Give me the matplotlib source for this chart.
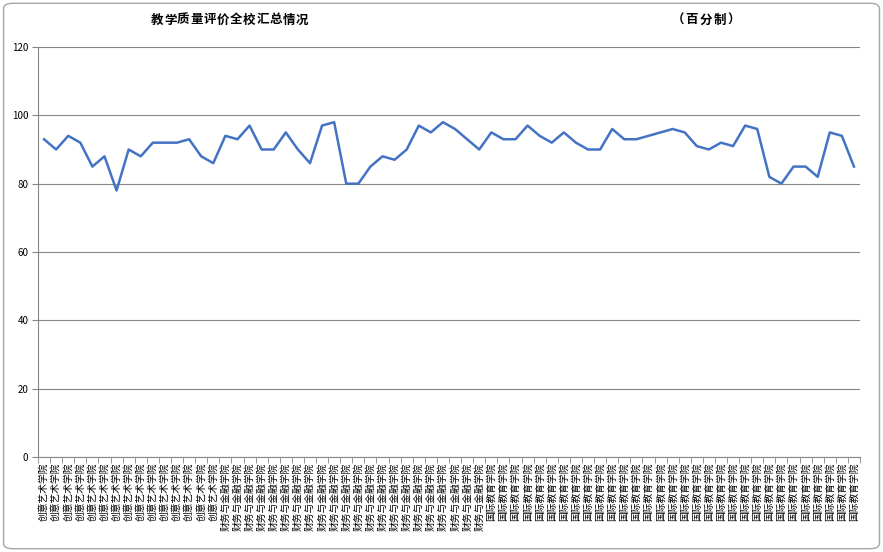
import numpy as np
import matplotlib.pyplot as plt
from matplotlib.patches import FancyBboxPatch

plt.rcParams['font.family'] = ['Noto Sans CJK SC', 'DejaVu Sans']

# categorias (colegios) y numero de cursos de cada uno
colegios = ['创意艺术学院', '财务与金融学院', '国际教育学院']
cuantos = [15, 22, 31]
etiquetas = [c for c, n in zip(colegios, cuantos) for _ in range(n)]

# puntuaciones
notas = [93, 90, 94, 92, 85, 88, 78, 90, 88, 92, 92, 92, 93, 88, 86,
         94, 93, 97, 90, 90, 95, 90, 86, 97, 98, 80, 80, 85, 88, 87, 90,
         97, 95, 98, 96, 93, 90,
         95, 93, 93, 97, 94, 92, 95, 92, 90, 90, 96, 93, 93, 94, 95, 96,
         95, 91, 90, 92, 91, 97, 96, 82, 80, 85, 85, 82, 95, 94, 85]

titulo = '教学质量评价全校汇总情况'
subtitulo = '（百分制）'

fig = plt.figure(figsize=(8.83, 5.52), dpi=100)
ax = fig.add_axes([38/883, 1-457/552, (860-38)/883, (457-47)/552])

x = np.arange(len(notas))
ax.plot(x, notas, color='#4472C4', linewidth=1.8)

ax.set_xlim(-0.5, len(notas)-0.5)
ax.set_ylim(0, 120)
ax.set_yticks(range(0, 121, 20))
ax.yaxis.grid(True, color='#868686', linewidth=0.8)
ax.set_axisbelow(True)

ax.set_xticks(x)
ax.set_xticklabels(etiquetas, rotation=90, fontsize=7)
ax.set_xticks(np.arange(-0.5, len(notas), 1), minor=True)
ax.tick_params(axis='x', which='major', length=0, pad=4)
ax.tick_params(axis='x', which='minor', length=4, color='#868686', direction='out')
ax.tick_params(axis='y', length=4, color='#868686', labelsize=7, pad=3)

for s in ['top', 'right']:
    ax.spines[s].set_visible(False)
ax.spines['left'].set_color('#868686')
ax.spines['bottom'].set_color('#868686')

# titulo con letras algo separadas, como en el original
for i, ch in enumerate(titulo):
    fig.text((151 + 13.2*i + 6)/883, 1-20/552, ch, ha='center', va='center', fontsize=9, fontweight='bold')
for i, ch in enumerate(subtitulo):
    fig.text((672 + 14*i + 6)/883, 1-20/552, ch, ha='center', va='center', fontsize=9, fontweight='bold')

# marco del grafico
marco = FancyBboxPatch((0.004, 0.006), 0.992, 0.988, boxstyle='round,pad=0,rounding_size=0.01',
                       transform=fig.transFigure, facecolor='none', edgecolor='#A6A6A6', linewidth=1)
fig.patches.append(marco)

fig.savefig('out.png', dpi=100)
